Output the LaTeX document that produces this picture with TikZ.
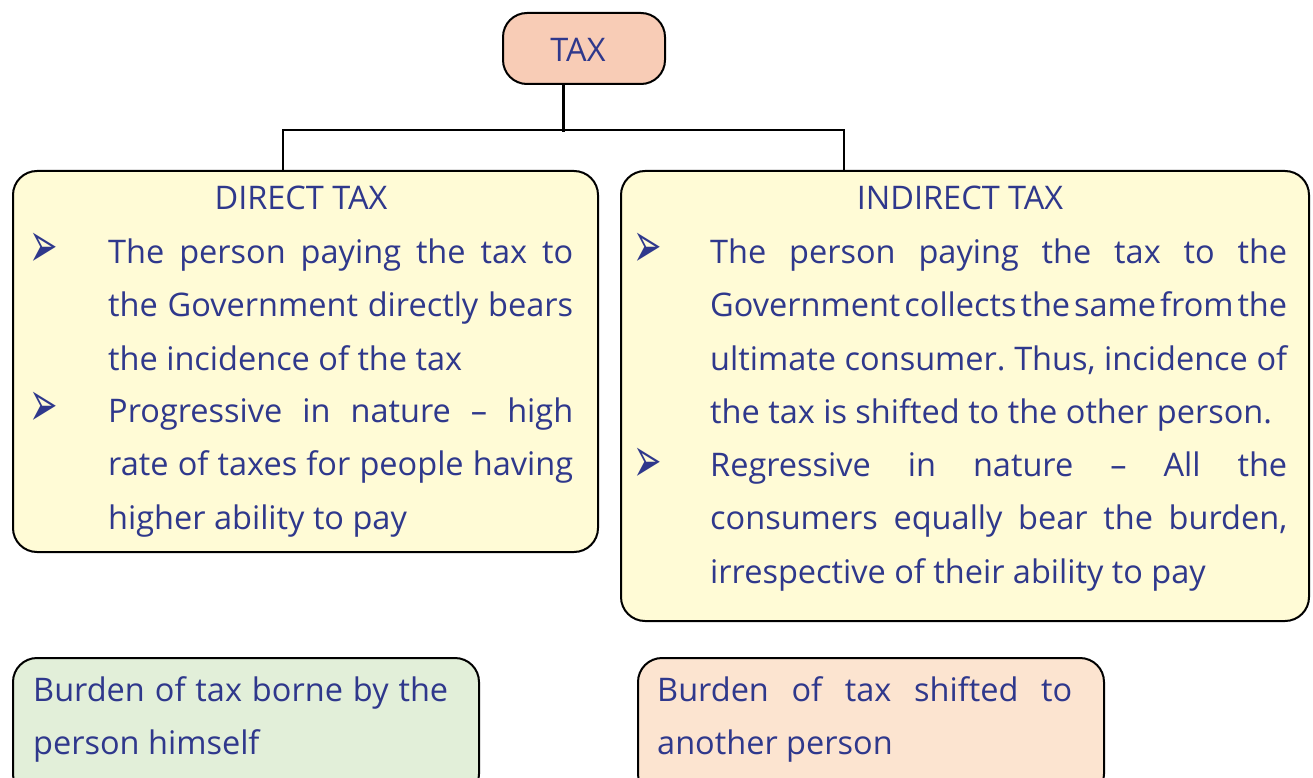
\documentclass[tikz,border=0pt]{standalone}
\usepackage{fontspec}
\usepackage{graphicx}
\setmainfont{Open Sans}
\newfontfamily\bulfont{DejaVu Sans}
\definecolor{taxfill}{RGB}{248,204,182}
\definecolor{paleyellow}{RGB}{255,251,214}
\definecolor{palegreen}{RGB}{226,239,217}
\definecolor{paleorange}{RGB}{252,228,208}
\definecolor{inkblue}{RGB}{47,56,140}

\begin{document}
\begin{tikzpicture}[x=1pt, y=-1pt]
    \tikzset{
        box/.style={
            draw=black, line width=2pt, rounded corners=24pt,
            rectangle, inner sep=0pt, anchor=north west,
        },
        label/.style={
            text=inkblue, inner sep=0pt,
            font=\fontsize{32.5}{53.5}\selectfont,
        },
        bullet/.style={
            text=inkblue, inner sep=0pt,
            font=\bulfont\fontsize{34}{34}\selectfont,
        },
        para/.style={
            label, anchor=base west,
        },
    }
    \useasboundingbox (0,0) rectangle (1313,778);

    % Boxes
    \node[box, fill=taxfill, minimum width=162, minimum height=71] (tax) at (502,12) {};
    \node[box, fill=paleyellow, minimum width=585, minimum height=381] (direct) at (12,170) {};
    \node[box, fill=paleyellow, minimum width=688, minimum height=450] (indirect) at (620,170) {};
    \node[box, fill=palegreen, minimum width=466, minimum height=140] (borne) at (12,657) {};
    \node[box, fill=paleorange, minimum width=466, minimum height=140] (shifted) at (637,657) {};

    % Lines
    \draw[line width=2.6pt] ([xshift=-20.5pt]tax.south) -- ++(0,47);
    \draw[line width=2.6pt] ([xshift=-22.5pt]direct.north) -- ++(0,-40) -| ([xshift=-121pt]indirect.north);

    % Titles
    \node[label] (taxtitle) at (578,50) {TAX};
    \node[label] (dtitle) at (301,198) {DIRECT TAX};
    \node[label] (ititle) at (960,198) {INDIRECT TAX};

    % Bullets
    \node[bullet] (db1) at (44,250) {\scalebox{1}[1.9]{➢}};
    \node[bullet] (db2) at (44,409) {\scalebox{1}[1.9]{➢}};
    \node[bullet] (ib1) at (648,250) {\scalebox{1}[1.9]{➢}};
    \node[bullet] (ib2) at (648,465) {\scalebox{1}[1.9]{➢}};

    % Texts
    \node[para] (dtext1) at (108,263) {\parbox[t]{465pt}{The person paying the tax to\linebreak
        the Government directly bears\linebreak the incidence of the tax}};
    \node[para] (dtext2) at (108,422) {\parbox[t]{465pt}{Progressive in nature – high\linebreak
        rate of taxes for people having\linebreak higher ability to pay}};
    \node[para] (itext1) at (710,263) {\parbox[t]{577pt}{\frenchspacing The person paying the tax to the\linebreak
        {\spaceskip=0.06em plus 1fil\relax Government collects the same from the}\linebreak
        ultimate consumer. Thus, incidence of\linebreak
        the tax is shifted to the other person.}};
    \node[para] (itext2) at (710,476) {\parbox[t]{577pt}{Regressive in nature – All the\linebreak
        consumers equally bear the burden,\linebreak irrespective of their ability to pay}};
    \node[para] (btext) at (33,701) {\parbox[t]{415pt}{Burden of tax borne by the\linebreak person himself}};
    \node[para] (stext) at (657,701) {\parbox[t]{415pt}{Burden of tax shifted to\linebreak another person}};

\end{tikzpicture}
\end{document}
